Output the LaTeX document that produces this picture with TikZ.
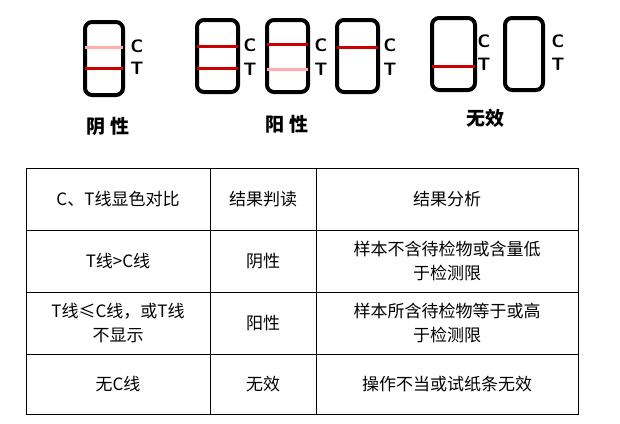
\documentclass[tikz,border=0pt]{standalone}
\usepackage{fontspec}
\setmainfont{Liberation Serif}
\newfontfamily\cjk{Noto Sans CJK SC}
\begin{document}
\begin{tikzpicture}[x=1pt, y=-1pt,
    strip/.style={draw=black, line width=4pt, rounded corners=7pt},
    cline/.style={line width=3pt, draw=red!80!black},
    faint/.style={line width=3pt, draw=pink!90!red},
    ctlabel/.style={font=\sffamily\bfseries\fontsize{18}{18}\selectfont},
    caption/.style={font=\cjk\bfseries\fontsize{19}{19}\selectfont},
    cell/.style={font=\cjk\fontsize{17}{24}\selectfont, align=center, inner sep=0pt},
    grid/.style={line width=0.9pt, draw=black}
]
\useasboundingbox (0,0) rectangle (620,423);

% Teststreifen
\foreach \xa/\xb/\ya/\yb [count=\i] in
    {85/123/22/95, 197/238/20/92, 267/308/20/92, 337/378/20/92, 432/475/18/90, 505/543/18/90}
    \draw[strip] (\xa,\ya) rectangle (\xb,\yb);

% Linien
\draw[faint] (85,47) -- (123,47);
\draw[cline] (85,68) -- (123,68);
\draw[cline] (197,46) -- (238,46);
\draw[cline] (197,68) -- (238,68);
\draw[cline] (267,44) -- (308,44);
\draw[faint] (267,69) -- (308,69);
\draw[cline] (337,47) -- (378,47);
\draw[cline] (432,66) -- (475,66);

% C/T Markierungen
\foreach \x/\yc/\yt in {137/46/68, 250/45/69, 321/45/69, 390/45/69, 484/41/64, 558/41/64} {
    \node[ctlabel] at (\x,\yc) {C};
    \node[ctlabel] at (\x,\yt) {T};
}

% Beschriftungen
\node[caption] (neg) at (108,126) {阴 性};
\node[caption] (pos) at (287,124) {阳 性};
\node[caption] (inv) at (485,118) {无效};

% Tabelle
\draw[grid] (26,168) rectangle (578,414);
\foreach \y in {230,292,354} \draw[grid] (26,\y) -- (578,\y);
\foreach \x in {210,316} \draw[grid] (\x,168) -- (\x,414);

\node[cell] (h1) at (118,199) {C、T线显色对比};
\node[cell] (h2) at (263,199) {结果判读};
\node[cell] (h3) at (447,199) {结果分析};
\node[cell] (r1a) at (118,261) {T线>C线};
\node[cell] (r1b) at (263,261) {阴性};
\node[cell] (r1c) at (447,261) {样本不含待检物或含量低\\于检测限};
\node[cell] (r2a) at (118,323) {T线≤C线，或T线\\不显示};
\node[cell] (r2b) at (263,323) {阳性};
\node[cell] (r2c) at (447,323) {样本所含待检物等于或高\\于检测限};
\node[cell] (r3a) at (118,384) {无C线};
\node[cell] (r3b) at (263,384) {无效};
\node[cell] (r3c) at (447,384) {操作不当或试纸条无效};
\end{tikzpicture}
\end{document}
